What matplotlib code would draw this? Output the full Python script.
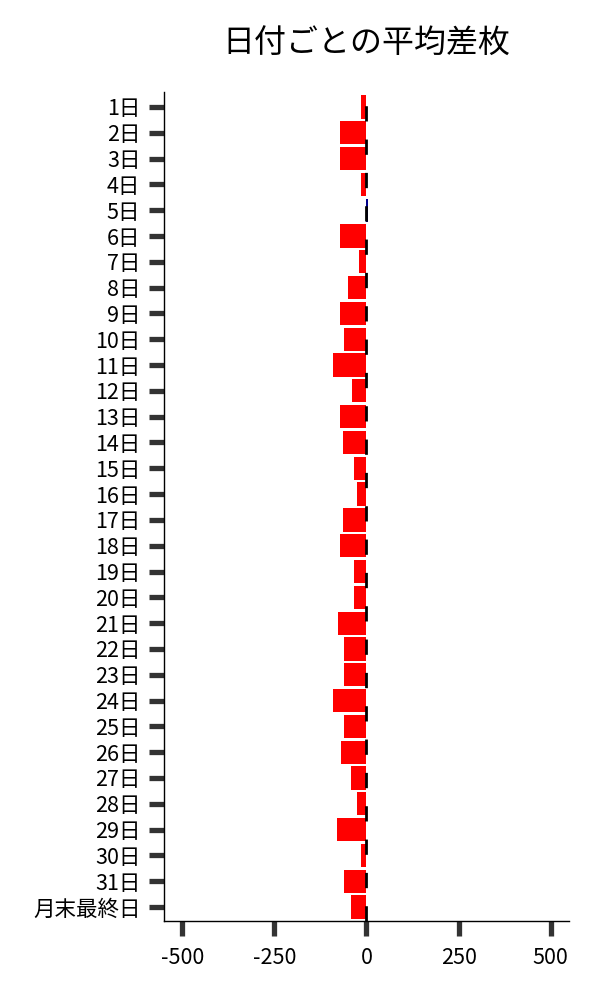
import matplotlib
matplotlib.use("Agg")
import matplotlib.pyplot as plt
import numpy as np

plt.rcParams['font.family'] = ['Noto Sans CJK JP', 'DejaVu Sans']

# data
days = [f"{i}日" for i in range(1, 32)] + ["月末最終日"]
diff = [-16, -73, -73, -14, 3, -73, -19, -49, -73, -60,
        -92, -38, -73, -65, -35, -27, -65, -71, -33, -33,
        -76, -60, -60, -90, -62, -68, -43, -27, -79, -16,
        -62, -43]
xticks = [-500, -250, 0, 250, 500]

colors = ['red' if v < 0 else '#00008b' for v in diff]
y = np.arange(len(days))

fig = plt.figure(figsize=(6, 10), dpi=100)
ax = fig.add_axes([0.2733, 0.0793, 0.675, 0.8287])

ax.barh(y, diff, height=0.9, color=colors)
ax.axvline(0, color='black', linewidth=2, linestyle=(0, (5.5, 6.5)))

ax.set_xlim(-550, 550)
ax.set_ylim(len(days) - 0.47, -0.58)
ax.set_yticks(y)
ax.set_yticklabels(days)
ax.set_xticks(xticks)
ax.set_xticklabels([str(t) for t in xticks])

ax.tick_params(axis='both', length=11, width=3.8, color='#333333',
               labelsize=15.5, pad=8)
ax.tick_params(axis='y', pad=6)
for s in ['top', 'right']:
    ax.spines[s].set_visible(False)
for s in ['left', 'bottom']:
    ax.spines[s].set_linewidth(1.0)

ax.set_title("日付ごとの平均差枚", fontsize=23, pad=28)

fig.savefig("out.png", dpi=100)
